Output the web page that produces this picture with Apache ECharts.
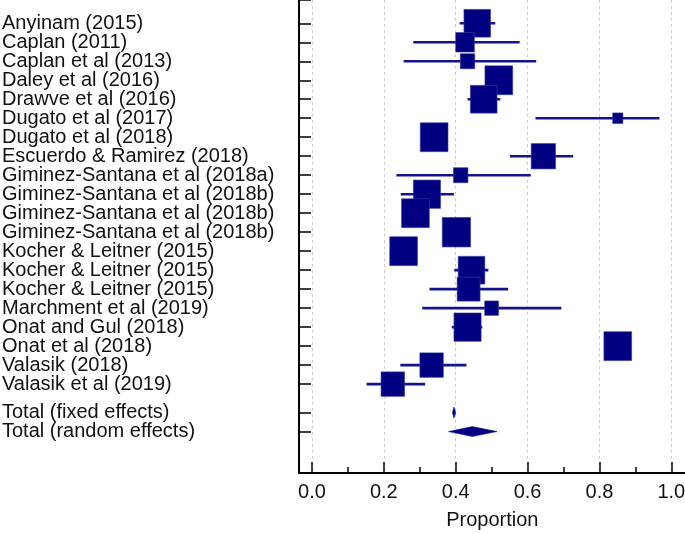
<!DOCTYPE html>
<html>
<head>
<meta charset="utf-8">
<script src="https://cdn.jsdelivr.net/npm/echarts@6/dist/echarts.min.js"></script>
<style>
html,body{margin:0;padding:0;background:#fff;}
#chart{width:685px;height:534px;}
</style>
</head>
<body>
<div id="chart"></div>
<script>
// ---- data ----
var studies = [
  'Anyinam (2015)', 'Caplan (2011)', 'Caplan et al (2013)', 'Daley et al (2016)',
  'Drawve et al (2016)', 'Dugato et al (2017)', 'Dugato et al (2018)',
  'Escuerdo & Ramirez (2018)', 'Giminez-Santana et al (2018a)',
  'Giminez-Santana et al (2018b)', 'Giminez-Santana et al (2018b)',
  'Giminez-Santana et al (2018b)', 'Kocher & Leitner (2015)',
  'Kocher & Leitner (2015)', 'Kocher & Leitner (2015)', 'Marchment et al (2019)',
  'Onat and Gul (2018)', 'Onat et al (2018)', 'Valasik (2018)', 'Valasik et al (2019)'
];
var estimates = [0.460, 0.426, 0.433, 0.520, 0.478, 0.851, 0.340, 0.644, 0.414, 0.320,
                 0.288, 0.402, 0.255, 0.444, 0.436, 0.500, 0.433, 0.851, 0.333, 0.225];
var ciLow     = [0.411, 0.282, 0.255, 0.490, 0.433, 0.622, 0.310, 0.551, 0.235, 0.247,
                 0.260, 0.370, 0.225, 0.396, 0.327, 0.307, 0.389, 0.820, 0.246, 0.152];
var ciHigh    = [0.510, 0.578, 0.624, 0.550, 0.524, 0.967, 0.370, 0.727, 0.609, 0.395,
                 0.320, 0.430, 0.285, 0.491, 0.546, 0.694, 0.474, 0.880, 0.430, 0.315];
// relative study weights (largest = 1)
var weights   = [0.94, 0.66, 0.51, 0.98, 0.94, 0.36, 0.98, 0.86, 0.51, 0.96,
                 0.98, 1.00, 0.98, 0.94, 0.81, 0.49, 0.96, 0.98, 0.83, 0.83];
var totalLabels = ['Total (fixed effects)', 'Total (random effects)'];
var totalEst  = [0.395, 0.446];
var totalLow  = [0.391, 0.380];
var totalHigh = [0.400, 0.515];
var xTicks = [0.0, 0.2, 0.4, 0.6, 0.8, 1.0];
var xMinorTicks = [0.1, 0.3, 0.5, 0.7, 0.9];

// ---- row positions ----
var Y_MIN = -0.226, Y_MAX = 24.68;
var rowPos = studies.map(function (s, i) { return i + 1; });
var totalPos = [studies.length + 1.5, studies.length + 2.5];
var allPos = rowPos.concat(totalPos);
// empty guard entries at the axis ends so the end-label overlap check never drops a real row
var yAxisValues = [Y_MIN].concat(allPos, [Y_MAX]);
var labelByPos = {};
studies.forEach(function (s, i) { labelByPos[rowPos[i]] = s; });
totalLabels.forEach(function (s, i) { labelByPos[totalPos[i]] = s; });

var studyData = studies.map(function (s, i) {
  return [estimates[i], rowPos[i], ciLow[i], ciHigh[i], weights[i]];
});
var totalData = totalLabels.map(function (s, i) {
  return [totalEst[i], totalPos[i], totalLow[i], totalHigh[i], i];
});

var NAVY = '#000080';
var BOX_MAX = 29.5;
var FONT = 'Liberation Sans, Arial, sans-serif';

var chart = echarts.init(document.getElementById('chart'));
chart.setOption({
  animation: false,
  backgroundColor: '#ffffff',
  grid: { left: 299, top: 0, width: 386.7, height: 473, containLabel: false, outerBoundsMode: 'none' },
  xAxis: [{
    type: 'value', min: -0.036, max: 1.04, position: 'bottom',
    axisLine: { show: true, onZero: false, lineStyle: { color: '#000', width: 2 } },
    axisTick: { show: true, inside: true, length: 11, customValues: xTicks, lineStyle: { color: '#000', width: 1.5 } },
    axisLabel: { show: true, customValues: xTicks, margin: 9, fontSize: 20, color: '#111',
      fontFamily: FONT, showMinLabel: true, showMaxLabel: true, hideOverlap: false,
      formatter: function (v) { return v.toFixed(1); } },
    splitLine: { show: true, lineStyle: { color: '#cccccc', type: [3, 3], width: 1 } },
    name: 'Proportion', nameLocation: 'middle', nameGap: 47, nameMoveOverlap: false,
    nameTextStyle: { fontSize: 20, color: '#111', fontFamily: FONT, verticalAlign: 'middle' }
  }, {
    type: 'value', min: -0.036, max: 1.04, position: 'bottom',
    axisLine: { show: false, onZero: false },
    axisTick: { show: true, inside: true, length: 6, customValues: xMinorTicks, lineStyle: { color: '#000', width: 1.5 } },
    axisLabel: { show: false },
    splitLine: { show: false }
  }],
  yAxis: {
    type: 'value', inverse: true, min: Y_MIN, max: Y_MAX,
    axisLine: { show: true, onZero: false, lineStyle: { color: '#000', width: 2 } },
    axisTick: { show: true, inside: true, length: 12, customValues: yAxisValues, lineStyle: { color: '#000', width: 1.5 } },
    axisLabel: { show: true, customValues: yAxisValues, align: 'left', margin: 297, fontSize: 20, lineHeight: 17,
      color: '#111', fontFamily: FONT, hideOverlap: false,
      formatter: function (v) { return labelByPos[v] || ''; } },
    splitLine: { show: false }
  },
  series: [{
    type: 'custom',
    name: 'studies',
    xAxisIndex: 0,
    data: studyData,
    encode: { x: [0, 2, 3], y: 1 },
    renderItem: function (params, api) {
      var c = api.coord([api.value(0), api.value(1)]);
      var lo = api.coord([api.value(2), api.value(1)]);
      var hi = api.coord([api.value(3), api.value(1)]);
      var w = api.value(4) * BOX_MAX * 0.96;
      var h = api.value(4) * BOX_MAX;
      return {
        type: 'group',
        children: [{
          type: 'line',
          shape: { x1: lo[0], y1: lo[1], x2: hi[0], y2: hi[1] },
          style: { stroke: '#14148c', lineWidth: 2.6 }
        }, {
          type: 'rect',
          shape: { x: c[0] - w / 2, y: c[1] - h / 2, width: w, height: h },
          style: { fill: NAVY, stroke: '#3a3aa0', lineWidth: 0.6 }
        }]
      };
    }
  }, {
    type: 'custom',
    name: 'totals',
    xAxisIndex: 0,
    data: totalData,
    encode: { x: [0, 2, 3], y: 1 },
    renderItem: function (params, api) {
      var c = api.coord([api.value(0), api.value(1)]);
      var lo = api.coord([api.value(2), api.value(1)]);
      var hi = api.coord([api.value(3), api.value(1)]);
      var hh = api.value(4) === 0 ? 5.5 : 5;
      return {
        type: 'polygon',
        shape: { points: [[lo[0], c[1]], [c[0], c[1] - hh], [hi[0], c[1]], [c[0], c[1] + hh]] },
        style: { fill: NAVY, stroke: NAVY, lineWidth: 0.5 }
      };
    }
  }]
});
</script>
</body>
</html>
